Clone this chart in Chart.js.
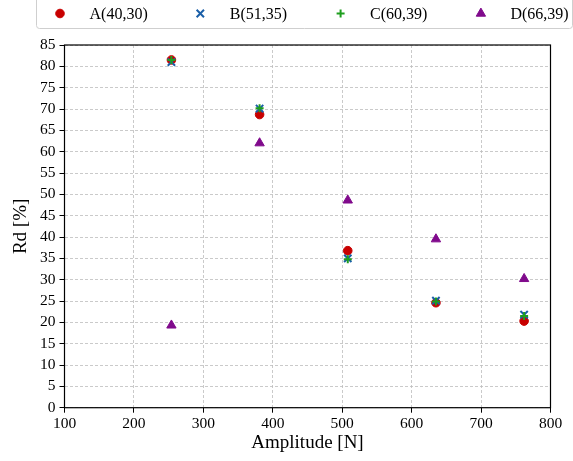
<!DOCTYPE html>
<html><head><meta charset="utf-8">
<script src="https://cdn.jsdelivr.net/npm/chart.js@4.4.0/dist/chart.umd.min.js"></script>
<style>html,body{margin:0;padding:0;background:#fff;overflow:hidden}</style>
</head><body>
<canvas id="c" width="573" height="461"></canvas>
<script>
// ---- data ----
const amplitudes = [254, 381, 508, 635, 762];
const seriesLabels = ['A(40,30)', 'B(51,35)', 'C(60,39)', 'D(66,39)'];
const rdA = [81.5, 68.7, 36.8, 24.6, 20.3];
const rdB = [81.0, 70.1, 35.0, 25.1, 21.8];
const rdC = [81.5, 70.2, 34.8, 24.9, 21.5];
const rdD = [19.3, 62.0, 48.6, 39.5, 30.2];
const xTickValues = [100, 200, 300, 400, 500, 600, 700, 800];
const yTickValues = [0, 5, 10, 15, 20, 25, 30, 35, 40, 45, 50, 55, 60, 65, 70, 75, 80, 85];

const FONT = '"Liberation Serif", "DejaVu Serif", serif';
const toPoints = ys => amplitudes.map((x, i) => ({x, y: ys[i]}));

const styles = [
  {color: '#c80000', pointStyle: 'circle', pointRadius: 4.3, borderWidth: 1},
  {color: '#1a5fa8', pointStyle: 'crossRot', pointRadius: 5.2, borderWidth: 2},
  {color: '#1e9e1e', pointStyle: 'cross', pointRadius: 4, borderWidth: 2},
  {color: '#800a8c', pointStyle: 'triangle', pointRadius: 5.4, borderWidth: 1}
];
const seriesValues = [rdA, rdB, rdC, rdD];

const datasets = seriesValues.map((vals, i) => ({
  label: seriesLabels[i],
  data: toPoints(vals),
  pointStyle: styles[i].pointStyle,
  pointRadius: styles[i].pointRadius,
  pointHoverRadius: styles[i].pointRadius,
  pointBorderWidth: styles[i].borderWidth,
  borderWidth: styles[i].borderWidth,
  backgroundColor: styles[i].color,
  borderColor: styles[i].color,
  showLine: false,
  order: 4 - i
}));

const frameAndLegend = {
  id: 'frameAndLegend',
  afterDraw(chart) {
    const ctx = chart.ctx;
    const a = chart.chartArea;
    ctx.save();
    // spines
    ctx.setLineDash([]);
    ctx.strokeStyle = '#000';
    ctx.lineWidth = 1.2;
    ctx.strokeRect(a.left, a.top, a.right - a.left, a.bottom - a.top);
    // legend box
    ctx.lineWidth = 1;
    ctx.strokeStyle = '#cfcfcf';
    ctx.beginPath();
    if (ctx.roundRect) ctx.roundRect(36.5, -6, 536, 34.5, 3);
    else ctx.rect(36.5, -6, 536, 34.5);
    ctx.stroke();
    // legend entries
    chart.data.datasets.forEach((ds, i) => {
      const cx = 60 + i * 140.3;
      const cy = 13.5;
      ctx.fillStyle = ds.backgroundColor;
      ctx.strokeStyle = ds.borderColor;
      ctx.lineWidth = ds.pointBorderWidth;
      Chart.helpers.drawPoint(ctx, {pointStyle: ds.pointStyle, radius: ds.pointRadius, borderWidth: ds.pointBorderWidth, rotation: 0}, cx, cy);
      ctx.fillStyle = '#000';
      ctx.font = '16px ' + FONT;
      ctx.textAlign = 'left';
      ctx.textBaseline = 'middle';
      ctx.fillText(ds.label, cx + 29.5, cy + 1);
    });
    ctx.restore();
  }
};

const gridCommon = {
  color: '#bdbdbd',
  lineWidth: 0.8,
  borderDash: [3, 2],
  drawTicks: true,
  tickLength: 5,
  tickColor: '#000',
  tickWidth: 1,
  tickBorderDash: []
};

new Chart(document.getElementById('c'), {
  type: 'scatter',
  data: {datasets},
  options: {
    responsive: false,
    animation: false,
    devicePixelRatio: 1,
    layout: {padding: {left: 0, top: 45, right: 22.5, bottom: 0}},
    plugins: {legend: {display: false}, tooltip: {enabled: false}},
    scales: {
      x: {
        type: 'linear', min: 100, max: 800,
        afterBuildTicks: s => { s.ticks = xTickValues.map(v => ({value: v})); },
        afterFit: s => { s.height = 53.3; },
        ticks: {color: '#000', font: {family: FONT, size: 15.5}, padding: 2, maxRotation: 0, autoSkip: false},
        grid: gridCommon,
        border: {display: false, dash: [3, 2]},
        title: {display: true, text: 'Amplitude [N]', color: '#000', font: {family: FONT, size: 19}, padding: {top: 0, bottom: 7}}
      },
      y: {
        type: 'linear', min: 0, max: 85,
        afterBuildTicks: s => { s.ticks = yTickValues.map(v => ({value: v})); },
        afterFit: s => { s.width = 64.5; },
        ticks: {color: '#000', font: {family: FONT, size: 15.5}, padding: 4, autoSkip: false},
        grid: gridCommon,
        border: {display: false, dash: [3, 2]},
        title: {display: true, text: 'Rd [%]', color: '#000', font: {family: FONT, size: 19}, padding: {top: 10, bottom: 0}}
      }
    }
  },
  plugins: [frameAndLegend]
});
</script>
</body></html>
